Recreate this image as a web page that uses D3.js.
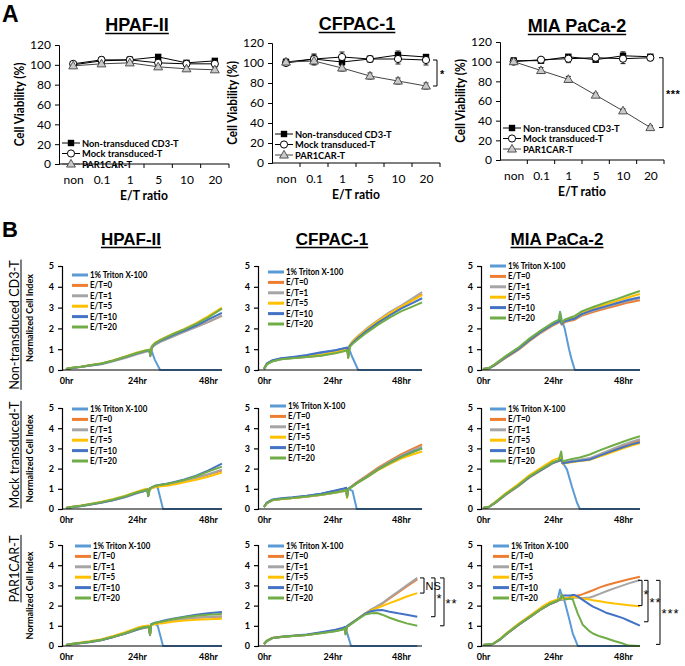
<!DOCTYPE html>
<html><head><meta charset="utf-8">
<script src="https://cdn.jsdelivr.net/npm/d3@7"></script>
<style>body{margin:0;background:#fff} svg{display:block}</style>
</head><body>
<svg id="chart" width="685" height="666"></svg>
<script>
// ================= DATA : panel A (cell viability %) =================
const etCategories = ["non","0.1","1","5","10","20"];
const aSeriesNames = ["Non-transduced CD3-T","Mock transduced-T","PAR1CAR-T"];
const aYTicks = [0,20,40,60,80,100,120];

const hpafNonT    = [100,104,105,108,102,104];
const hpafNonTErr = [3,2,2,2,2,2];
const hpafMock    = [101,105,105,102,101,101];
const hpafMockErr = [2,3,3,3,2,2];
const hpafCar     = [99,101,102,98,96,95];
const hpafCarErr  = [2,2,2,2,2,2];

const cfpacNonT    = [101,104,101,104,108,106];
const cfpacNonTErr = [2,5,3,2,4,2];
const cfpacMock    = [100,104,106,104,104,103];
const cfpacMockErr = [2,4,5,3,5,5];
const cfpacCar     = [101,102,95,87,82,77];
const cfpacCarErr  = [3,4,3,3,3,3];

const miaNonT    = [101,101,105,102,106,105];
const miaNonTErr = [3,2,2,2,4,2];
const miaMock    = [100,102,103,104,103,104];
const miaMockErr = [2,2,4,4,5,3];
const miaCar     = [100,91,82,66,50,33];
const miaCarErr  = [2,3,3,2,2,2];

// significance brackets panel A: [top value, bottom value, label]
const cfpacSig = [103, 77, "*"];
const miaSig   = [104, 33, "***"];

// ================= DATA : panel B (normalized cell index) =================
const bSeriesNames = ["1% Triton X-100","E/T=0","E/T=1","E/T=5","E/T=10","E/T=20"];
const bYTicks = [0,1,2,3,4,5];
const bXTicks = [0,24,48];
const bRowNames = ["Non-transduced CD3-T","Mock transduced-T","PAR1CAR-T"];
const bColNames = ["HPAF-II","CFPAC-1","MIA PaCa-2"];

// HPAF-II / Non-transduced
const hpafNT_hr = [0,2,5,8,12,16,20,24,27,28.2,28.5,29,30,31.8,34,37,40,44,48,52.7];
const hpafNT_ci = [
 [0.05,0.1,0.15,0.22,0.3,0.45,0.62,0.8,0.92,0.95,0.8,0.9,0.5,0,0,0,0,0,0,0],
 [0.05,0.1,0.15,0.22,0.3,0.44,0.6,0.78,0.9,0.93,0.68,1.08,1.22,1.36,1.5,1.68,1.85,2.08,2.3,2.6],
 [0.05,0.09,0.14,0.2,0.28,0.42,0.58,0.76,0.88,0.92,0.66,1.06,1.2,1.34,1.48,1.66,1.83,2.06,2.3,2.62],
 [0.05,0.11,0.16,0.23,0.32,0.47,0.65,0.84,0.95,0.98,0.72,1.14,1.3,1.45,1.6,1.8,1.98,2.25,2.58,3.0],
 [0.05,0.1,0.15,0.22,0.3,0.45,0.62,0.8,0.92,0.95,0.7,1.1,1.25,1.4,1.54,1.73,1.9,2.14,2.42,2.75],
 [0.05,0.11,0.16,0.23,0.31,0.46,0.64,0.82,0.94,0.97,0.7,1.12,1.28,1.43,1.58,1.78,1.95,2.22,2.52,2.95]];
// HPAF-II / Mock
const hpafMock_hr = [0,2,5,8,12,16,20,24,26,27.5,27.8,28.3,30,31,32.8,34,37,40,44,48,52.7];
const hpafMock_ci = [
 [0.05,0.1,0.15,0.22,0.33,0.45,0.6,0.8,0.88,0.96,0.7,1.0,1.12,1.05,0,0,0,0,0,0,0],
 [0.05,0.1,0.15,0.22,0.33,0.45,0.6,0.8,0.88,0.96,0.65,1.0,1.12,1.15,1.2,1.22,1.3,1.4,1.55,1.7,1.9],
 [0.05,0.09,0.14,0.21,0.31,0.43,0.58,0.78,0.86,0.94,0.63,0.98,1.1,1.14,1.18,1.2,1.28,1.38,1.55,1.72,1.95],
 [0.05,0.11,0.17,0.25,0.36,0.5,0.66,0.86,0.95,1.0,0.66,1.0,1.08,1.1,1.14,1.15,1.22,1.32,1.45,1.6,1.8],
 [0.05,0.1,0.15,0.22,0.32,0.44,0.6,0.8,0.88,0.96,0.65,1.02,1.15,1.18,1.22,1.25,1.35,1.46,1.65,1.9,2.25],
 [0.05,0.1,0.16,0.23,0.34,0.47,0.63,0.83,0.9,0.97,0.66,1.02,1.14,1.17,1.21,1.24,1.33,1.44,1.62,1.85,2.1]];
// HPAF-II / PAR1CAR
const hpafCar_hr = [0,2,5,8,12,16,20,24,26,28,28.4,28.8,30,31,32.8,36,40,44,48,52.7];
const hpafCar_ci = [
 [0.05,0.1,0.15,0.2,0.3,0.45,0.62,0.82,0.9,0.95,0.6,1.05,1.1,1.0,0,0,0,0,0,0],
 [0.05,0.1,0.15,0.2,0.3,0.45,0.62,0.82,0.9,0.95,0.55,1.05,1.12,1.15,1.2,1.28,1.35,1.4,1.43,1.45],
 [0.05,0.09,0.14,0.19,0.29,0.44,0.6,0.8,0.88,0.93,0.53,1.03,1.1,1.13,1.18,1.27,1.34,1.4,1.43,1.47],
 [0.05,0.11,0.17,0.23,0.33,0.5,0.68,0.9,0.98,1.02,0.58,1.05,1.08,1.1,1.13,1.2,1.26,1.3,1.32,1.35],
 [0.05,0.1,0.15,0.2,0.3,0.45,0.62,0.82,0.9,0.95,0.56,1.08,1.15,1.18,1.25,1.35,1.45,1.55,1.62,1.68],
 [0.05,0.1,0.15,0.21,0.31,0.46,0.63,0.84,0.92,0.96,0.56,1.07,1.14,1.17,1.22,1.32,1.42,1.5,1.55,1.58]];
// CFPAC-1 / Non-transduced
const cfpacNT_hr = [0,1,3,6,10,15,20,25,28,29.2,29.5,30,31,33,36,40,44,48,52,55.4];
const cfpacNT_ci = [
 [0.05,0.3,0.45,0.55,0.6,0.68,0.8,0.95,1.02,1.05,0.9,0.95,0.6,0,0,0,0,0,0,0],
 [0.05,0.28,0.43,0.53,0.58,0.63,0.7,0.83,0.93,0.98,0.6,1.15,1.33,1.58,1.93,2.33,2.7,3.02,3.35,3.65],
 [0.05,0.27,0.42,0.52,0.58,0.64,0.72,0.85,0.95,1.0,0.62,1.18,1.38,1.65,2.0,2.4,2.78,3.1,3.45,3.75],
 [0.05,0.3,0.45,0.55,0.6,0.65,0.72,0.85,0.95,1.0,0.6,1.17,1.36,1.62,1.96,2.36,2.72,3.05,3.35,3.6],
 [0.05,0.32,0.47,0.57,0.63,0.72,0.85,0.95,1.05,1.08,0.65,1.15,1.3,1.55,1.88,2.28,2.62,2.95,3.22,3.45],
 [0.05,0.28,0.42,0.52,0.57,0.62,0.68,0.8,0.9,0.95,0.58,1.1,1.25,1.48,1.8,2.18,2.52,2.82,3.05,3.25]];
// CFPAC-1 / Mock
const cfpacMock_hr = [0,1,3,6,10,15,20,25,28,28.8,29.1,29.5,31,32.5,36,40,44,48,52,55.4];
const cfpacMock_ci = [
 [0.1,0.3,0.45,0.5,0.56,0.64,0.75,0.9,1.0,1.02,0.9,1.0,0.9,0,0,0,0,0,0,0],
 [0.1,0.3,0.45,0.5,0.55,0.62,0.7,0.82,0.9,0.95,0.6,1.0,1.16,1.32,1.65,2.05,2.38,2.7,2.98,3.2],
 [0.1,0.28,0.43,0.49,0.54,0.61,0.69,0.8,0.88,0.93,0.58,0.98,1.13,1.3,1.62,2.0,2.33,2.63,2.9,3.1],
 [0.1,0.3,0.44,0.5,0.55,0.62,0.7,0.82,0.9,0.94,0.55,0.98,1.12,1.27,1.57,1.92,2.22,2.5,2.7,2.85],
 [0.1,0.32,0.47,0.53,0.58,0.66,0.76,0.92,1.02,1.05,0.62,1.0,1.13,1.28,1.58,1.96,2.28,2.58,2.82,3.0],
 [0.1,0.29,0.44,0.5,0.55,0.62,0.7,0.82,0.9,0.95,0.6,0.98,1.12,1.27,1.58,1.96,2.27,2.57,2.8,3.0]];
// CFPAC-1 / PAR1CAR
const cfpacCar_hr = [0,1,3,6,10,15,20,25,27.8,28.3,28.6,29,30.5,33,35.5,37.5,39.6,41.4,44,47,50,53.7];
const cfpacCar_ci = [
 [0.1,0.25,0.4,0.45,0.5,0.55,0.65,0.75,0.85,0.9,0.85,0.7,0,0,0,0,0,0,0,0,0,0],
 [0.1,0.25,0.4,0.45,0.5,0.55,0.65,0.75,0.85,0.9,0.6,0.95,1.1,1.35,1.6,1.8,1.95,2.1,2.35,2.65,2.95,3.3],
 [0.1,0.24,0.39,0.44,0.49,0.54,0.64,0.74,0.84,0.88,0.58,0.94,1.1,1.36,1.62,1.8,1.97,2.12,2.4,2.7,3.0,3.37],
 [0.1,0.26,0.41,0.46,0.51,0.56,0.66,0.76,0.86,0.9,0.6,0.96,1.12,1.37,1.6,1.75,1.88,1.98,2.12,2.28,2.45,2.62],
 [0.1,0.25,0.4,0.46,0.51,0.57,0.68,0.8,0.9,0.95,0.62,0.97,1.12,1.36,1.6,1.72,1.77,1.78,1.7,1.62,1.55,1.45],
 [0.1,0.24,0.39,0.44,0.49,0.54,0.63,0.73,0.82,0.88,0.58,0.93,1.08,1.33,1.56,1.62,1.63,1.55,1.4,1.25,1.12,1.0]];
const cfpacCarSig = [[3.37,2.62,"NS"],[3.37,1.45,"*"],[3.37,1.0,"**"]];
// MIA PaCa-2 / Non-transduced
const miaNT_hr = [0,2,4,8,12,16,20,24,26,26.4,27,28,29.5,30.5,31.5,34,38,42,46,50,53.8];
const miaNT_ci = [
 [0.05,0.08,0.25,0.65,1.0,1.45,1.85,2.2,2.35,2.8,2.4,2.0,1.0,0.45,0,0,0,0,0,0,0],
 [0.05,0.07,0.22,0.6,0.95,1.4,1.8,2.15,2.28,2.35,2.18,2.3,2.35,2.38,2.42,2.62,2.8,2.95,3.1,3.25,3.35],
 [0.05,0.08,0.24,0.63,0.98,1.43,1.83,2.18,2.31,2.4,2.2,2.33,2.38,2.42,2.46,2.67,2.86,3.02,3.18,3.33,3.45],
 [0.05,0.08,0.26,0.67,1.03,1.48,1.88,2.23,2.37,2.45,2.24,2.38,2.45,2.5,2.55,2.78,2.98,3.15,3.32,3.5,3.65],
 [0.05,0.08,0.24,0.64,1.0,1.45,1.85,2.2,2.34,2.42,2.22,2.35,2.4,2.44,2.48,2.7,2.9,3.06,3.22,3.38,3.5],
 [0.05,0.09,0.27,0.69,1.06,1.52,1.92,2.28,2.42,2.75,2.28,2.42,2.5,2.55,2.6,2.83,3.04,3.24,3.42,3.62,3.8]];
// MIA PaCa-2 / Mock
const miaMock_hr = [0,2,4,8,12,16,20,24,26,26.8,27.3,28.8,30.5,32.2,33.2,36.6,40,44,48,51,53.8];
const miaMock_ci = [
 [0.05,0.1,0.3,0.75,1.15,1.6,1.95,2.3,2.4,2.45,2.3,1.95,1.1,0.32,0,0,0,0,0,0,0],
 [0.05,0.1,0.28,0.72,1.12,1.57,1.92,2.27,2.37,2.42,2.25,2.3,2.35,2.38,2.4,2.48,2.68,2.9,3.12,3.28,3.4],
 [0.05,0.1,0.29,0.73,1.13,1.58,1.93,2.28,2.38,2.43,2.27,2.33,2.38,2.42,2.44,2.52,2.72,2.95,3.18,3.33,3.45],
 [0.05,0.11,0.33,0.8,1.22,1.68,2.05,2.42,2.52,2.5,2.25,2.28,2.32,2.35,2.37,2.43,2.6,2.8,3.0,3.14,3.25],
 [0.05,0.1,0.29,0.74,1.14,1.59,1.94,2.29,2.39,2.44,2.26,2.3,2.34,2.37,2.39,2.45,2.64,2.85,3.06,3.2,3.3],
 [0.05,0.1,0.3,0.76,1.16,1.62,1.97,2.32,2.42,2.85,2.35,2.42,2.48,2.52,2.55,2.7,2.9,3.12,3.33,3.48,3.6]];
// MIA PaCa-2 / PAR1CAR
const miaCar_hr = [0,2,3.4,6,8,12,16,20,23,25.5,26.4,27,28,29.8,30.8,31.5,32.5,33.2,34.2,36.6,37.7,40,42.5,45,48,50,53.8];
const miaCar_ci = [
 [0.05,0.08,0.1,0.35,0.6,1.05,1.45,1.85,2.1,2.25,2.8,2.5,2.2,1.2,0.6,0.37,0,0,0,0,0,0,0,0,0,0,0],
 [0.05,0.08,0.1,0.33,0.58,1.02,1.42,1.82,2.07,2.22,2.3,2.3,2.35,2.4,2.45,2.45,2.5,2.52,2.57,2.7,2.76,2.9,3.02,3.12,3.23,3.3,3.43],
 [0.05,0.08,0.1,0.34,0.59,1.03,1.43,1.83,2.08,2.23,2.3,2.28,2.3,2.35,2.38,2.4,2.4,2.38,2.38,2.4,2.45,2.58,2.72,2.85,3.0,3.1,3.27],
 [0.05,0.08,0.11,0.37,0.63,1.09,1.5,1.92,2.18,2.3,2.35,2.35,2.35,2.4,2.42,2.42,2.4,2.38,2.35,2.3,2.27,2.22,2.15,2.1,2.05,2.02,1.97],
 [0.05,0.08,0.1,0.34,0.59,1.03,1.43,1.83,2.08,2.23,2.3,2.5,2.5,2.5,2.52,2.52,2.45,2.38,2.28,2.05,1.95,1.8,1.63,1.52,1.38,1.25,1.01],
 [0.05,0.08,0.1,0.35,0.6,1.04,1.44,1.84,2.09,2.24,2.3,2.55,2.3,2.35,2.3,2.0,1.6,1.38,1.05,0.72,0.62,0.48,0.37,0.25,0.12,0.02,0]];
const miaCarSig = [[3.25,2.0,"*"],[3.25,1.2,"**"],[3.25,0.08,"***"]];

// ================= STYLE / LAYOUT =================
const CAL = "Lato, 'Open Sans', sans-serif";
const ARIAL = "'Liberation Sans', Arial, sans-serif";
const bColors = ["#5B9BD5","#ED7D31","#A5A5A5","#FFC000","#4472C4","#70AD47"];
const svg = d3.select("#chart");

function squeeze(sel, k){
  sel.each(function(){
    const L = this.getComputedTextLength();
    d3.select(this).attr("textLength", L*k).attr("lengthAdjust","spacingAndGlyphs");
  });
  return sel;
}
function underline(g, textSel, off, w){
  const bb = textSel.node().getBBox();
  g.append("line").attr("x1",bb.x).attr("x2",bb.x+bb.width)
    .attr("y1",+textSel.attr("y")+off).attr("y2",+textSel.attr("y")+off)
    .attr("stroke","#000").attr("stroke-width",w);
}
function title(x, y, s, size){
  const g = svg.append("g");
  const t = g.append("text").attr("x",x).attr("y",y).attr("text-anchor","middle")
    .attr("font-family",ARIAL).attr("font-weight","bold").attr("font-size",size).text(s);
  underline(g, t, 2.5, 1.6);
}

// ---------- Panel A ----------
svg.append("text").attr("x",2).attr("y",22).attr("font-family",ARIAL).attr("font-weight","bold")
  .attr("font-size",23).text("A");

const aCharts = [
  {name:"HPAF-II", tx:137, ty:31, ax:59, end:229, yTop:45, y0:164, legX:62, legY:143, legStep:10.5,
   s:[[hpafNonT,hpafNonTErr],[hpafMock,hpafMockErr],[hpafCar,hpafCarErr]], sig:null},
  {name:"CFPAC-1", tx:357, ty:30, ax:272, end:440, yTop:43, y0:163, legX:275, legY:134, legStep:10.5,
   s:[[cfpacNonT,cfpacNonTErr],[cfpacMock,cfpacMockErr],[cfpacCar,cfpacCarErr]], sig:cfpacSig, sigX:437},
  {name:"MIA PaCa-2", tx:577, ty:32, ax:500, end:664, yTop:42, y0:160, legX:503, legY:128, legStep:10.5,
   s:[[miaNonT,miaNonTErr],[miaMock,miaMockErr],[miaCar,miaCarErr]], sig:miaSig, sigX:663}
];

function marker(g, type, x, y){
  if(type===0){
    g.append("rect").attr("x",x-3.2).attr("y",y-3.2).attr("width",6.4).attr("height",6.4).attr("fill","#000");
  } else if(type===1){
    g.append("circle").attr("cx",x).attr("cy",y).attr("r",3.6).attr("fill","#fff").attr("stroke","#000").attr("stroke-width",1);
  } else {
    g.append("path").attr("d",d3.symbol(d3.symbolTriangle, 34)()).attr("transform",`translate(${x},${y+0.5})`)
      .attr("fill","#c9c9c9").attr("stroke","#444").attr("stroke-width",0.9);
  }
}

aCharts.forEach(c=>{
  title(c.tx, c.ty, c.name, 18);
  const g = svg.append("g");
  const y = d3.scaleLinear().domain([0,120]).range([c.y0, c.yTop]);
  const x = d3.scalePoint().domain(etCategories).range([c.ax, c.end]).padding(0.5);
  const ya = g.append("g").attr("transform",`translate(${c.ax},0)`)
    .call(d3.axisLeft(y).tickValues(aYTicks).tickSize(4).tickPadding(4));
  ya.selectAll("text").attr("font-family",CAL).attr("font-size",12).attr("fill","#000");
  ya.selectAll("line,path").attr("stroke","#000");
  const xa = g.append("g").attr("transform",`translate(0,${c.y0})`)
    .call(d3.axisBottom(x).tickSize(0).tickPadding(11));
  xa.select(".domain").remove();
  xa.selectAll("text").attr("font-family",CAL).attr("font-size",12).attr("fill","#000");
  g.append("line").attr("x1",c.ax).attr("x2",c.end).attr("y1",c.y0).attr("y2",c.y0).attr("stroke","#000");
  const step = x.step();
  etCategories.forEach((d,i)=>{
    const bx = x(d)+step/2;
    g.append("line").attr("x1",bx).attr("x2",bx).attr("y1",c.y0).attr("y2",c.y0+4).attr("stroke","#000");
  });
  // axis titles
  squeeze(g.append("text").attr("x",(c.ax+c.end)/2).attr("y",c.y0+36).attr("text-anchor","middle")
    .attr("font-family",CAL).attr("font-weight","bold").attr("font-size",12.5).text("E/T ratio"),0.97);
  squeeze(g.append("text").attr("transform",`translate(${c.ax-35},${(c.y0+c.yTop)/2}) rotate(-90)`)
    .attr("text-anchor","middle").attr("font-family",CAL).attr("font-weight","bold").attr("font-size",13)
    .text("Cell Viability (%)"),0.9);
  // series
  const line = d3.line().x((d,i)=>x(etCategories[i])).y(d=>y(d));
  c.s.forEach(([vals,errs],k)=>{
    g.append("path").datum(vals).attr("d",line).attr("fill","none")
      .attr("stroke", k===2?"#444":"#000").attr("stroke-width",1);
  });
  c.s.forEach(([vals,errs],k)=>{
    vals.forEach((v,i)=>{
      const xx = x(etCategories[i]);
      g.append("line").attr("x1",xx).attr("x2",xx).attr("y1",y(v-errs[i])).attr("y2",y(v+errs[i])).attr("stroke","#000").attr("stroke-width",0.9);
      [v-errs[i], v+errs[i]].forEach(e=>g.append("line").attr("x1",xx-2.5).attr("x2",xx+2.5)
        .attr("y1",y(e)).attr("y2",y(e)).attr("stroke","#000").attr("stroke-width",0.9));
    });
  });
  c.s.forEach(([vals,errs],k)=>{
    vals.forEach((v,i)=>marker(g,k,x(etCategories[i]),y(v)));
  });
  // legend
  aSeriesNames.forEach((n,k)=>{
    const ly = c.legY + k*c.legStep;
    g.append("line").attr("x1",c.legX).attr("x2",c.legX+18).attr("y1",ly).attr("y2",ly)
      .attr("stroke",k===2?"#444":"#000").attr("stroke-width",1);
    marker(g,k,c.legX+9,ly);
    squeeze(g.append("text").attr("x",c.legX+20).attr("y",ly).attr("dy","0.35em")
      .attr("font-family",CAL).attr("font-weight","bold").attr("font-size",10).text(n),0.93);
  });
  // significance
  if(c.sig){
    const [t,b,lab] = c.sig;
    const x2 = c.sigX, x1 = x2-4;
    g.append("path").attr("d",`M${x1},${y(t)}H${x2}V${y(b)}H${x1}`).attr("fill","none").attr("stroke","#000").attr("stroke-width",1);
    g.append("text").attr("x",x2+3).attr("y",(y(t)+y(b))/2+5).attr("font-family",ARIAL)
      .attr("font-weight","bold").attr("font-size",11).attr("letter-spacing",0.5).text(lab);
  }
});

// ---------- Panel B ----------
svg.append("text").attr("x",2).attr("y",237).attr("font-family",ARIAL).attr("font-weight","bold")
  .attr("font-size",22).text("B");

const bCols = [
  {ax:62, x0:66, x48:208, xEnd:222, tx:131},
  {ax:258, x0:264, x48:401, xEnd:422, tx:332},
  {ax:481, x0:483, x48:623, xEnd:640, tx:557}];
const bRows = [{y5:266, y0:370, lab:325}, {y5:408, y0:509, lab:455}, {y5:545, y0:646, lab:569}];
const bLegX = [[72,268,490],[72,270,490],[75,268,493]];
const bLegY = [[275,272,266],[409,406,409],[546,546,546]];
const bPanels = [
  [[hpafNT_hr,hpafNT_ci],[cfpacNT_hr,cfpacNT_ci],[miaNT_hr,miaNT_ci]],
  [[hpafMock_hr,hpafMock_ci],[cfpacMock_hr,cfpacMock_ci],[miaMock_hr,miaMock_ci]],
  [[hpafCar_hr,hpafCar_ci],[cfpacCar_hr,cfpacCar_ci],[miaCar_hr,miaCar_ci]]];
const bSig = {"2-1":{sig:cfpacCarSig, xs:[424,435,444]}, "2-2":{sig:miaCarSig, xs:[642,648,660]}};

bColNames.forEach((n,ci)=>title(bCols[ci].tx, 245, n, 17));

bRowNames.forEach((n,ri)=>{
  const r = bRows[ri];
  const g = svg.append("g").attr("transform",`translate(19,${r.lab}) rotate(-90)`);
  const t = g.append("text").attr("x",0).attr("y",0).attr("text-anchor","middle")
    .attr("font-family",CAL).attr("font-size",14).text(n);
  squeeze(t,0.9);
  underline(g,t,2,1);
  squeeze(svg.append("text").attr("transform",`translate(33,${(r.y0+r.y5)/2}) rotate(-90)`)
    .attr("text-anchor","middle").attr("font-family",CAL).attr("font-weight","bold").attr("font-size",9.5)
    .text("Normalized Cell Index"),0.95);
});

bRows.forEach((r,ri)=>{
  bCols.forEach((c,ci)=>{
    const [hr, ci_vals] = bPanels[ri][ci];
    const g = svg.append("g");
    const x = d3.scaleLinear().domain([0,48]).range([c.x0,c.x48]);
    const y = d3.scaleLinear().domain([0,5]).range([r.y0,r.y5]);
    const ya = g.append("g").attr("transform",`translate(${c.ax},0)`)
      .call(d3.axisLeft(y).tickValues(bYTicks).tickFormat(d3.format("d")).tickSize(4).tickPadding(4));
    ya.selectAll("text").attr("font-family",CAL).attr("font-weight","bold").attr("font-size",9).attr("fill","#000");
    ya.selectAll("line,path").attr("stroke","#000").attr("stroke-width",1.2);
    const xa = g.append("g").attr("transform",`translate(0,${r.y0})`)
      .call(d3.axisBottom(x).tickValues(bXTicks).tickFormat(d=>d+"hr").tickSize(0).tickPadding(8));
    xa.select(".domain").remove();
    xa.selectAll("text").attr("font-family",CAL).attr("font-weight","bold").attr("font-size",9).attr("fill","#000");
    const line = d3.line().x((d,i)=>x(hr[i])).y(d=>y(d));
    ci_vals.forEach((vals,k)=>{
      g.append("path").datum(vals).attr("d",line).attr("fill","none").attr("stroke",bColors[k])
        .attr("stroke-width",2).attr("stroke-linejoin","round");
    });
    g.append("line").attr("x1",c.ax).attr("x2",c.xEnd).attr("y1",r.y0).attr("y2",r.y0).attr("stroke","#000").attr("stroke-width",1.2);
    // legend
    bSeriesNames.forEach((n,k)=>{
      const lx = bLegX[ri][ci], ly = bLegY[ri][ci] + k*10.4;
      g.append("line").attr("x1",lx).attr("x2",lx+16).attr("y1",ly).attr("y2",ly).attr("stroke",bColors[k]).attr("stroke-width",3);
      squeeze(g.append("text").attr("x",lx+18).attr("y",ly).attr("dy","0.35em").attr("font-family",CAL)
        .attr("font-weight","bold").attr("font-size",8.5).text(n),0.93);
    });
    const s = bSig[`${ri}-${ci}`];
    if(s){
      s.sig.forEach(([t,b,lab],j)=>{
        const x2 = s.xs[j], x1 = x2-4;
        g.append("path").attr("d",`M${x1},${y(t)}H${x2}V${y(b)}H${x1}`).attr("fill","none").attr("stroke","#000").attr("stroke-width",1);
        g.append("text").attr("x",x2+1.5).attr("y",(y(t)+y(b))/2+ (lab==="NS"?4:6)).attr("font-family",ARIAL)
          .attr("font-size",lab==="NS"?11:13).attr("letter-spacing",lab==="NS"?0:1).text(lab);
      });
    }
  });
});
</script>
</body></html>
